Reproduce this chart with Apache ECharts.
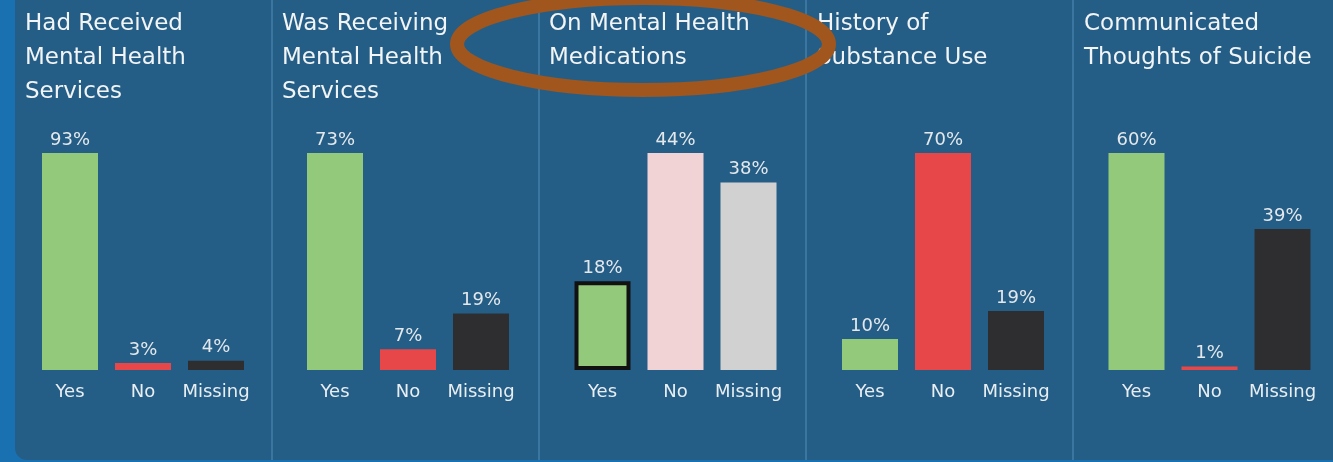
<!DOCTYPE html>
<html>
<head>
<meta charset="utf-8">
<title>Mental health indicators</title>
<script src="https://cdn.jsdelivr.net/npm/echarts@6/dist/echarts.min.js"></script>
<style>
  html, body { margin: 0; padding: 0; background: #1a71b2; }
  #chart { width: 1333px; height: 462px; }
</style>
</head>
<body>
<div id="chart"></div>
<script>
// Answer categories shared by every panel
const categories = ['Yes', 'No', 'Missing'];

// Panel headings
const panelTitles = [
  'Had Received\nMental Health\nServices',
  'Was Receiving\nMental Health\nServices',
  'On Mental Health\nMedications',
  'History of\nSubstance Use',
  'Communicated\nThoughts of Suicide'
];

// Percent of youth in each category, per panel
const hadReceivedServices = [93, 3, 4];
const wasReceivingServices = [73, 7, 19];
const onMedications = [18, 44, 38];
const substanceUseHistory = [10, 70, 19];
const suicideThoughts = [60, 1, 39];

const panelValues = [
  hadReceivedServices,
  wasReceivingServices,
  onMedications,
  substanceUseHistory,
  suicideThoughts
];

// Bar colours: default scheme and the highlighted (medications) scheme
const defaultColors = ['#93c97b', '#e8474a', '#2e2e30'];
const highlightColors = ['#93c97b', '#f2d3d5', '#d1d1d1'];

const FONT = 'DejaVu Sans';
const gridLefts = [33.5, 298.5, 566, 833.5, 1100];
const titleLefts = [25, 282, 549, 817, 1084];
const dividerXs = [272, 539, 806, 1073];

const grids = [], xAxes = [], yAxes = [], series = [], titles = [];

panelValues.forEach((vals, i) => {
  grids.push({ left: gridLefts[i], width: 219, top: 153, bottom: 92 });
  xAxes.push({
    type: 'category', gridIndex: i, data: categories,
    axisLine: { show: false }, axisTick: { show: false },
    axisLabel: { interval: 0, color: '#e9eef2', fontFamily: FONT, fontSize: 18, margin: 13 }
  });
  yAxes.push({
    type: 'value', gridIndex: i, min: 0, max: Math.max(...vals),
    show: false, splitLine: { show: false }
  });
  const colors = i === 2 ? highlightColors : defaultColors;
  series.push({
    type: 'bar', xAxisIndex: i, yAxisIndex: i, barWidth: 56,
    data: vals.map((v, k) => ({
      value: v,
      itemStyle: Object.assign(
        { color: colors[k] },
        (i === 2 && k === 0) ? { borderColor: '#111111', borderWidth: 4 } : {}
      )
    })),
    label: {
      show: true, position: 'top', distance: 4,
      formatter: '{c}%', color: '#e4e8eb', fontFamily: FONT, fontSize: 18
    },
    silent: true, animation: false
  });
  titles.push({
    text: panelTitles[i], left: titleLefts[i], top: 7, padding: 0,
    textStyle: { color: '#f2f4f6', fontFamily: FONT, fontSize: 23, fontWeight: 'normal', lineHeight: 34 }
  });
});

const graphics = [
  {
    type: 'rect', z: -10, silent: true,
    shape: { x: 15, y: -20, width: 1340, height: 480, r: [0, 0, 0, 12] },
    style: { fill: '#245e87' }
  }
];
dividerXs.forEach(x => graphics.push({
  type: 'line', z: -5, silent: true,
  shape: { x1: x, y1: 0, x2: x, y2: 460 },
  style: { stroke: '#3b76a0', lineWidth: 2 }
}));
// Emphasis ring around the medications heading
graphics.push({
  type: 'ellipse', z: 100, silent: true,
  shape: { cx: 643, cy: 44, rx: 186, ry: 46 },
  style: { fill: 'none', stroke: '#a0561d', lineWidth: 14 }
});

const chart = echarts.init(document.getElementById('chart'), null, { renderer: 'canvas' });
chart.setOption({
  backgroundColor: 'transparent',
  animation: false,
  title: titles,
  grid: grids,
  xAxis: xAxes,
  yAxis: yAxes,
  series: series,
  graphic: graphics
});
</script>
</body>
</html>
